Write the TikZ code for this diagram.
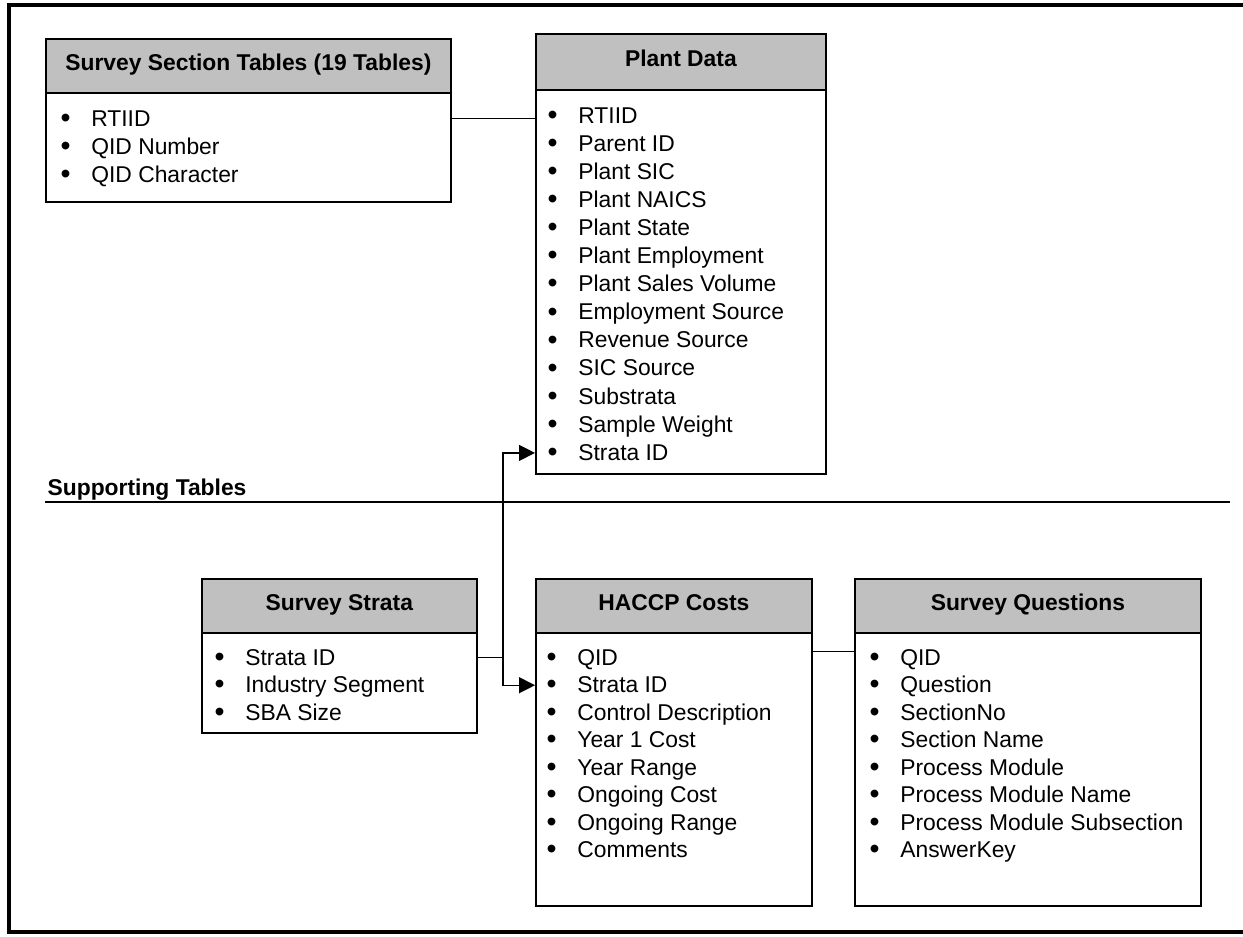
\documentclass[tikz,border=0pt]{standalone}
\usepackage{fontspec}
\setmainfont{Liberation Sans}
\usetikzlibrary{arrows.meta,calc}
\definecolor{hdrgray}{RGB}{192,192,192}
\newcommand{\px}{0.02cm}
\newcommand{\boxfont}{\fontsize{13pt}{15.6pt}\selectfont}
\newcommand{\bul}{\makebox[17.5pt][l]{\raisebox{-0.06em}{\scalebox{1.25}{•}}}}
\tikzstyle{arrow} = [-{Triangle[length=9pt,width=9pt]}]
\tikzstyle{head} = [rectangle, draw, line width=1pt, fill=hdrgray, anchor=north west,
inner sep=0pt, text height=0.74em, text depth=0.21em, font=\boxfont\bfseries]
\tikzstyle{body} = [rectangle, draw, line width=1pt, anchor=north west, inner sep=0pt]
\tikzstyle{item} = [anchor=base west, inner sep=0pt]

\begin{document}
\begin{tikzpicture}[x=\px, y=-\px, font=\boxfont, line width=0.7pt]
\useasboundingbox (0,0) rectangle (1243,936);
% outer frame
\draw[line width=2.5pt] (1243,5) -| (9,932) -- (1243,932);

% Survey section tables
\node[head, minimum width=405*\px, minimum height=54*\px] (sst) at (45,38) {Survey Section Tables (19 Tables)};
\node[body, minimum width=405*\px, minimum height=109*\px] (sstb) at (45,92) {};
\foreach \t [count=\i from 0] in {RTIID, QID Number, QID Character}
	\node[item] (sst\i) at (60,126+28*\i) {\bul\t};

% Plant data
\node[head, minimum width=290*\px, minimum height=56*\px] (pd) at (535,33) {Plant Data};
\node[body, minimum width=290*\px, minimum height=384*\px] (pdb) at (535,89) {};
\foreach \t [count=\i from 0] in {RTIID, Parent ID, Plant SIC, Plant NAICS, Plant State,
	Plant Employment, Plant Sales Volume, Employment Source, Revenue Source, SIC Source,
	Substrata, Sample Weight, Strata ID}
	\node[item] (pd\i) at (547,123+28.1*\i) {\bul\t};

% Supporting tables
\node[anchor=base west, inner sep=0pt, font=\boxfont\bfseries] (sup) at (47,495) {Supporting Tables};
\draw[line width=0.8pt] (45,502) -- (1230,502);

\node[head, minimum width=275*\px, minimum height=54*\px] (ss) at (201,578) {Survey Strata};
\node[body, minimum width=275*\px, minimum height=100*\px] (ssb) at (201,632) {};
\foreach \t [count=\i from 0] in {Strata ID, Industry Segment, SBA Size}
	\node[item] (ss\i) at (214,665+27.5*\i) {\bul\t};

\node[head, minimum width=276*\px, minimum height=54*\px] (hc) at (535,578) {HACCP Costs};
\node[body, minimum width=276*\px, minimum height=273*\px] (hcb) at (535,632) {};
\foreach \t [count=\i from 0] in {QID, Strata ID, Control Description, Year 1 Cost,
	Year Range, Ongoing Cost, Ongoing Range, Comments}
	\node[item] (hc\i) at (546,665+27.5*\i) {\bul\t};

\node[head, minimum width=346*\px, minimum height=54*\px] (sq) at (854,578) {Survey Questions};
\node[body, minimum width=346*\px, minimum height=273*\px] (sqb) at (854,632) {};
\foreach \t [count=\i from 0] in {QID, Question, SectionNo, Section Name, Process Module,
	Process Module Name, Process Module Subsection, AnswerKey}
	\node[item] (sq\i) at (869,665+27.5*\i) {\bul\t};

% Links
\coordinate (jn) at (503,0);
\draw (sstb.east |- sst0) -- (pdb.west |- sst0);
\draw (ssb.east |- ss0) -- (jn |- ss0);
\draw[arrow] (jn |- ss0) |- (pdb.west |- pd12);
\draw[arrow] (jn |- ss0) |- (hcb.west |- hc1);
\draw ($(hcb.east |- hc0)+(0,-8)$) -- ($(sqb.west |- hc0)+(0,-8)$);

\end{tikzpicture}
\end{document}
